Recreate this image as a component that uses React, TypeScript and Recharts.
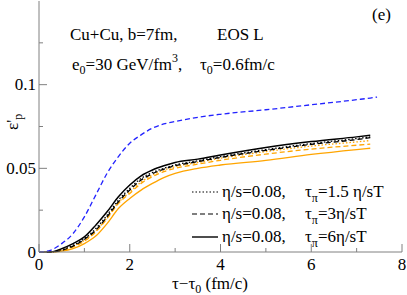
import React from "react";
import { Line, LineChart, XAxis, YAxis } from "recharts";

const tau = [0, 0.25, 0.5, 0.75, 1, 1.25, 1.5, 1.75, 2, 2.25, 2.5, 2.75, 3, 3.5, 4, 5, 6, 7, 7.3, 7.45];

const blueDashed = [0, 0.001, 0.005, 0.011, 0.021, 0.034, 0.047, 0.057, 0.065, 0.07, 0.074, 0.0765, 0.078, 0.0805, 0.0823, 0.085, 0.088, 0.091, 0.092, 0.0926];
const blackSolid = [0, 0, 0.002, 0.005, 0.009, 0.016, 0.024, 0.033, 0.04, 0.0455, 0.049, 0.0515, 0.0535, 0.0555, 0.058, 0.0625, 0.066, 0.0688, 0.0697, null];
const blackDotted = [0, 0, 0.0015, 0.004, 0.008, 0.014, 0.022, 0.031, 0.038, 0.044, 0.0475, 0.05, 0.052, 0.0545, 0.057, 0.0612, 0.0648, 0.0678, 0.0688, null];
const blackDashed = [0, 0, 0.001, 0.0035, 0.0075, 0.013, 0.021, 0.03, 0.037, 0.043, 0.0468, 0.0495, 0.0515, 0.054, 0.0565, 0.0607, 0.0643, 0.0672, 0.0683, null];
const orangeDotted = [0, 0, 0.001, 0.0035, 0.007, 0.0125, 0.0205, 0.0295, 0.0358, 0.0418, 0.046, 0.049, 0.051, 0.0535, 0.056, 0.06, 0.0633, 0.0658, 0.0666, null];
const orangeDashed = [0, 0, 0.001, 0.003, 0.0065, 0.012, 0.02, 0.029, 0.035, 0.041, 0.045, 0.048, 0.05, 0.0525, 0.0548, 0.0585, 0.0615, 0.0638, 0.0645, null];
const orangeSolid = [0, 0, 0.0005, 0.002, 0.005, 0.0095, 0.017, 0.026, 0.032, 0.037, 0.041, 0.0445, 0.047, 0.05, 0.052, 0.0548, 0.0583, 0.0612, 0.062, null];

const xTicks = [0, 1, 2, 3, 4, 5, 6, 7, 8];
const xLabels = ["0", "", "2", "", "4", "", "6", "", "8"];
const yTicks = [0, 0.025, 0.05, 0.075, 0.1, 0.125];
const yLabels = ["0", "", "0.05", "", "0.1", ""];

const data = tau.map((t, i) => ({
  tau: t,
  blue: blueDashed[i],
  bs: blackSolid[i],
  bdot: blackDotted[i],
  bdash: blackDashed[i],
  odot: orangeDotted[i],
  odash: orangeDashed[i],
  osol: orangeSolid[i],
}));

const FONT = "Liberation Serif";
const FRAME = "#808080";
const ORANGE = "#ffa500";
const BLUE = "#2222ff";
const txt = { fontFamily: FONT, fontSize: 17, fill: "#000" };

const XTick = (props: any) => {
  const { x, y, payload } = props;
  const i = xTicks.indexOf(payload.value);
  const major = payload.value % 2 === 0;
  return (
    <g>
      <line x1={x} x2={x} y1={y} y2={y - (major ? 8 : 4)} stroke={FRAME} strokeWidth={1} />
      <text x={x} y={y + 18} textAnchor="middle" style={txt}>
        {xLabels[i]}
      </text>
    </g>
  );
};

const YTick = (props: any) => {
  const { x, y, payload } = props;
  const i = yTicks.findIndex((v) => Math.abs(v - payload.value) < 1e-9);
  const major = i % 2 === 0;
  return (
    <g>
      <line x1={x} x2={x + (major ? 8 : 4)} y1={y} y2={y} stroke={FRAME} strokeWidth={1} />
      <text x={x - 3} y={y + 5.5} textAnchor="end" style={txt}>
        {yLabels[i]}
      </text>
    </g>
  );
};

export default function App() {
  return (
    <div style={{ position: "absolute", left: 0, top: 0, width: 407, height: 295, background: "#fff" }}>
      <LineChart width={407} height={295} data={data} margin={{ top: 1, right: 5, bottom: 0, left: 0 }}>
        <XAxis
          dataKey="tau"
          type="number"
          domain={[0, 8]}
          ticks={xTicks}
          tick={<XTick />}
          tickLine={false}
          tickSize={0}
          tickMargin={0}
          height={43}
          axisLine={{ stroke: FRAME }}
          interval={0}
        />
        <XAxis xAxisId="top" orientation="top" dataKey="tau" type="number" domain={[0, 8]} tick={false} tickLine={false} height={0} axisLine={{ stroke: FRAME }} />
        <YAxis
          type="number"
          domain={[0, 0.15]}
          ticks={yTicks}
          tick={<YTick />}
          tickLine={false}
          tickSize={0}
          tickMargin={0}
          width={39}
          axisLine={{ stroke: FRAME }}
          interval={0}
        />
        <YAxis yAxisId="right" orientation="right" domain={[0, 0.15]} tick={false} tickLine={false} width={0} axisLine={{ stroke: FRAME }} />
        <Line type="monotone" dataKey="osol" stroke={ORANGE} strokeWidth={1.3} dot={false} isAnimationActive={false} />
        <Line type="monotone" dataKey="odash" stroke={ORANGE} strokeWidth={1.3} strokeDasharray="5 3" dot={false} isAnimationActive={false} />
        <Line type="monotone" dataKey="odot" stroke={ORANGE} strokeWidth={1.3} strokeDasharray="1.5 2" dot={false} isAnimationActive={false} />
        <Line type="monotone" dataKey="bdash" stroke="#000" strokeWidth={1.3} strokeDasharray="5 3" dot={false} isAnimationActive={false} />
        <Line type="monotone" dataKey="bdot" stroke="#000" strokeWidth={1.3} strokeDasharray="1.5 2" dot={false} isAnimationActive={false} />
        <Line type="monotone" dataKey="bs" stroke="#000" strokeWidth={1.5} dot={false} isAnimationActive={false} />
        <Line type="monotone" dataKey="blue" stroke={BLUE} strokeWidth={1.3} strokeDasharray="5 3" dot={false} isAnimationActive={false} />
      </LineChart>
      <svg width={407} height={295} style={{ position: "absolute", left: 0, top: 0, pointerEvents: "none" }}>
        <text x={372} y={20} style={txt}>(e)</text>
        <text x={70} y={40} style={txt}>Cu+Cu, b=7fm,</text>
        <text x={217} y={40} style={txt}>EOS L</text>
        <text x={72} y={70} style={txt}>
          e<tspan fontSize={12} dy={4}>0</tspan>
          <tspan dy={-4}>=30 GeV/fm</tspan>
          <tspan fontSize={12} dy={-8}>3</tspan>
          <tspan dy={8}>,</tspan>
        </text>
        <text x={200} y={70} style={txt}>
          τ<tspan fontSize={12} dy={4}>0</tspan>
          <tspan dy={-4}>=0.6fm/c</tspan>
        </text>

        <line x1={192} x2={218} y1={192} y2={192} stroke="#000" strokeWidth={1.2} strokeDasharray="1.5 2" />
        <text x={222} y={197} style={txt}>η/s=0.08,</text>
        <text x={305} y={197} style={txt}>
          τ<tspan fontSize={12} dy={5}>π</tspan>
          <tspan dy={-5}>=1.5 η/sT</tspan>
        </text>

        <line x1={192} x2={218} y1={214} y2={214} stroke="#000" strokeWidth={1.2} strokeDasharray="5 3" />
        <text x={222} y={219} style={txt}>η/s=0.08,</text>
        <text x={305} y={219} style={txt}>
          τ<tspan fontSize={12} dy={5}>π</tspan>
          <tspan dy={-5}>=3η/sT</tspan>
        </text>

        <line x1={192} x2={218} y1={237} y2={237} stroke="#000" strokeWidth={1.4} />
        <text x={222} y={242} style={txt}>η/s=0.08,</text>
        <text x={305} y={242} style={txt}>
          τ<tspan fontSize={12} dy={5}>π</tspan>
          <tspan dy={-5}>=6η/sT</tspan>
        </text>

        <text x={210} y={289} textAnchor="middle" style={txt}>
          τ−τ<tspan fontSize={12} dy={4}>0</tspan>
          <tspan dy={-4}> (fm/c)</tspan>
        </text>

        <text transform="translate(18,130) rotate(-90)" style={txt}>
          ε'<tspan fontSize={12} dy={4}>p</tspan>
        </text>
      </svg>
    </div>
  );
}
